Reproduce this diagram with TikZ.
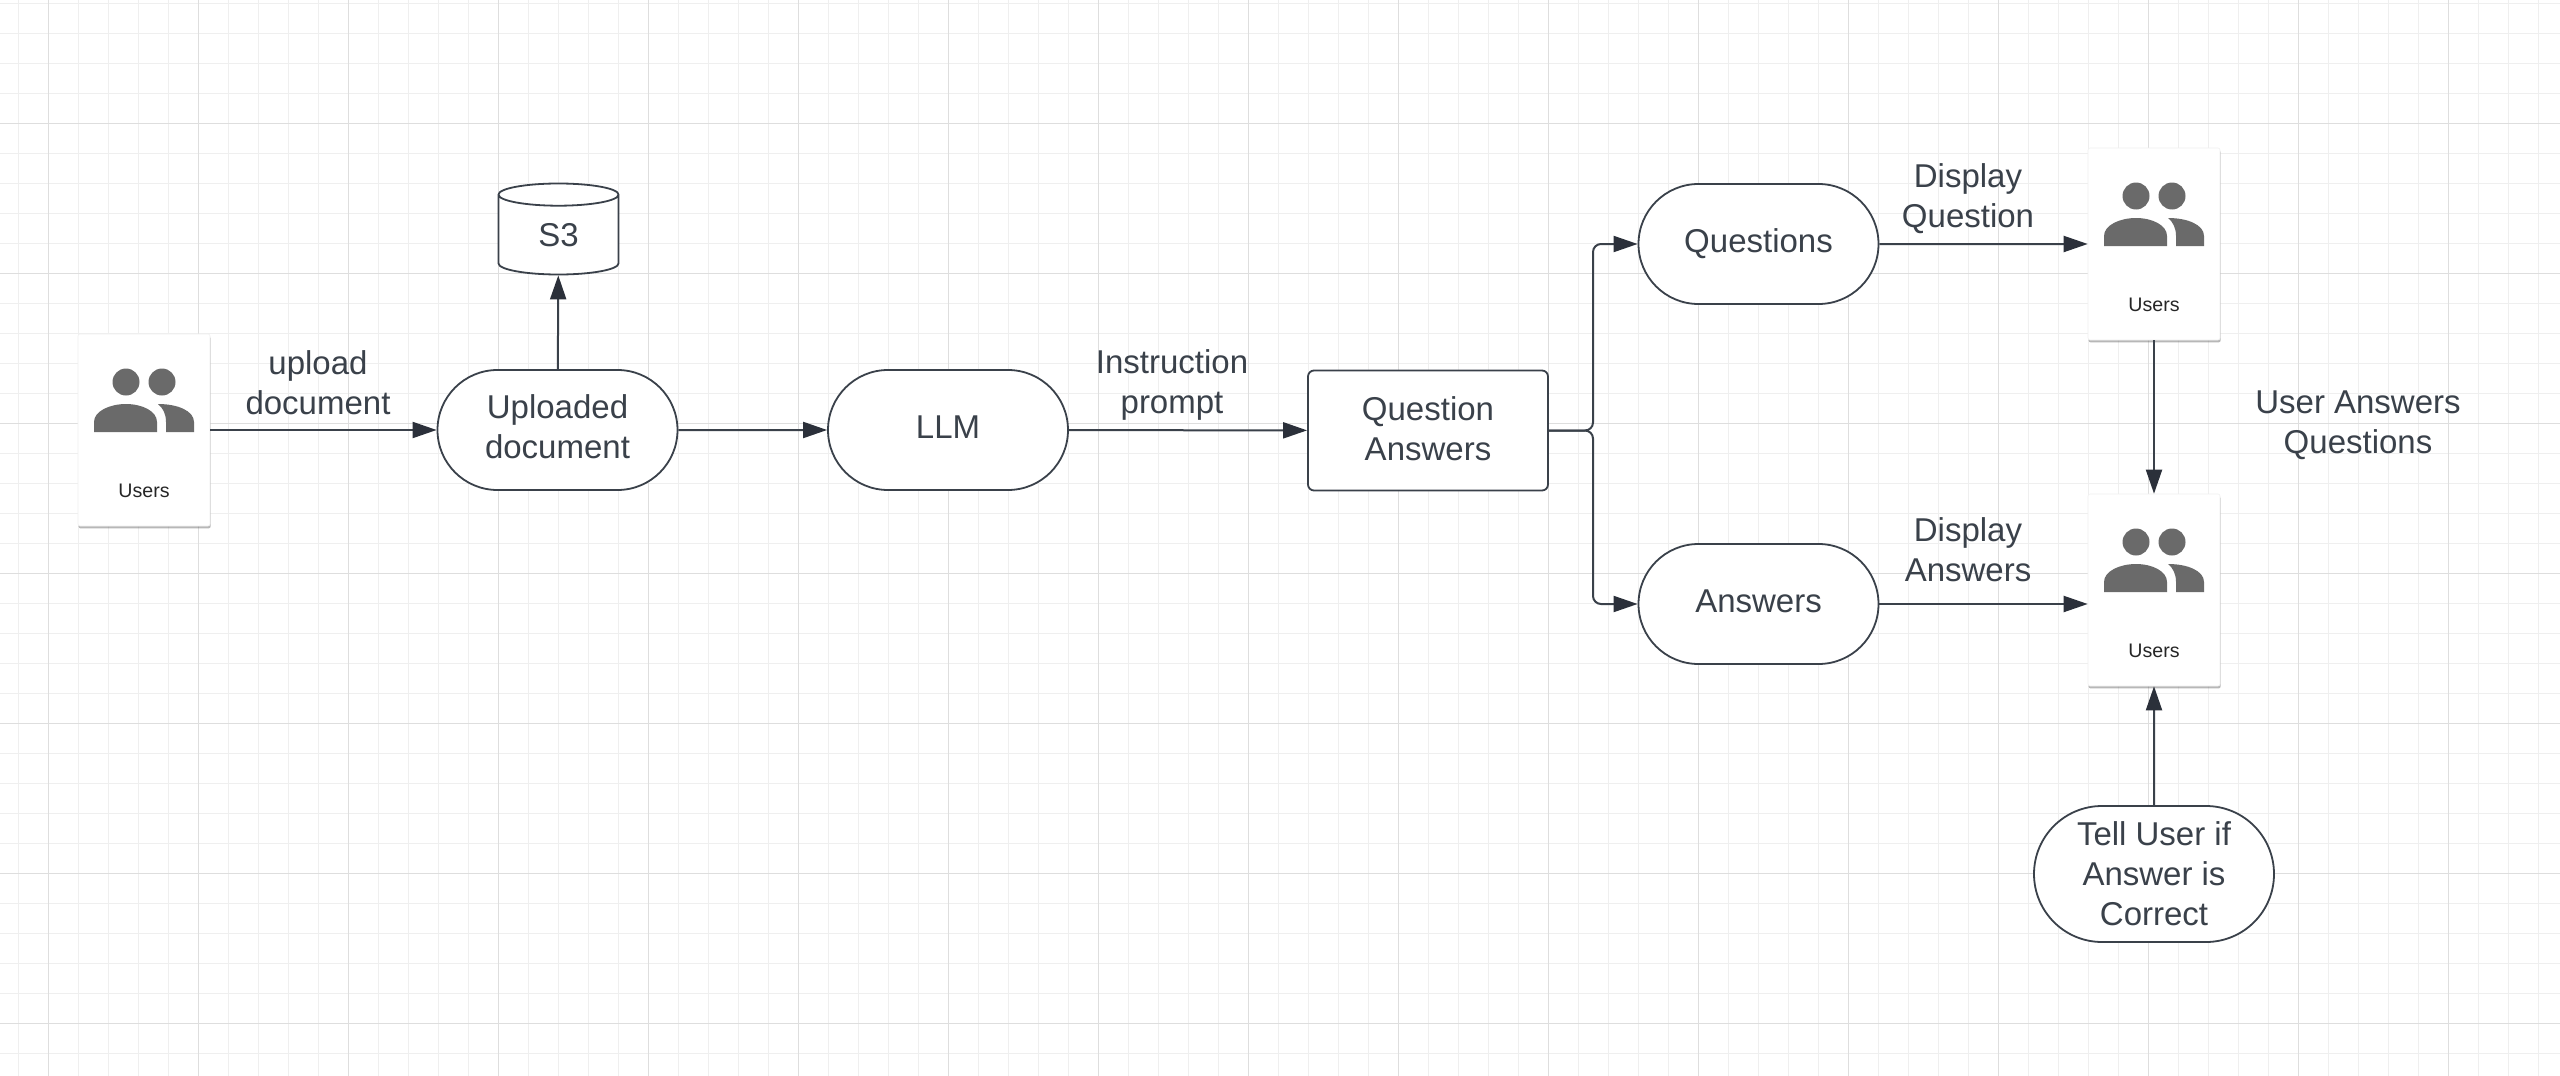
\documentclass[tikz,border=0pt]{standalone}
\usepackage{fontspec}
\setmainfont{Liberation Sans}
\usetikzlibrary{shapes,shapes.geometric,shapes.misc,arrows.meta,shadows,positioning}
\definecolor{inkline}{HTML}{3A414A}
\definecolor{inktip}{HTML}{2B303A}
\definecolor{iconfill}{HTML}{6A6A6A}
\definecolor{gridminor}{HTML}{EFEFEF}
\definecolor{gridmajor}{HTML}{DEDEDE}
\tikzset{
	every node/.style={text=inkline,font=\fontsize{16.5}{20}\selectfont,align=center},
	pill/.style={shape=rounded rectangle,draw=inkline,line width=0.9pt,fill=white,minimum width=120pt,minimum height=60pt,inner sep=0pt,text depth=3pt},
	card/.style={shape=rectangle,rounded corners=1pt,draw=black!6,line width=0.3pt,fill=white,minimum width=66pt,minimum height=96pt,inner sep=0pt,drop shadow={shadow xshift=0.3pt,shadow yshift=-1.2pt,opacity=0.4,fill=black!70}},
	cardtext/.style={text=black!85,font=\fontsize{9.8}{12}\selectfont,inner sep=0pt},
	conn/.style={-{Triangle[length=12pt,width=8pt,color=inktip]},draw=inkline,line width=1pt},
	usericon/.pic={
		\fill[iconfill] (-18,-48) circle [x radius=13.5,y radius=13.5];
		\fill[iconfill] (18,-48) circle [x radius=13.5,y radius=13.5];
		\fill[iconfill] (-50,2) -- (-50,-8) .. controls (-50,-19) and (-34,-26) .. (-18,-26) .. controls (-2,-26) and (13,-19) .. (13,-8) -- (13,2) -- cycle;
		\fill[iconfill] (22,2) -- (22,-8) .. controls (22,-16) and (19,-22) .. (14,-26) .. controls (34,-26) and (50,-19) .. (50,-8) -- (50,2) -- cycle;
	}
}
\begin{document}
\begin{tikzpicture}[x=0.5pt,y=-0.5pt]
	\useasboundingbox (0,0) rectangle (2560,1076);
	\fill[white] (0,0) rectangle (2560,1076);
	% grid
	\foreach \gx in {0,...,85} \draw[gridminor,line width=0.6pt] ({18.5+30*\gx},0) -- ({18.5+30*\gx},1076);
	\foreach \gy in {0,...,35} \draw[gridminor,line width=0.6pt] (0,{3.5+30*\gy}) -- (2560,{3.5+30*\gy});
	\foreach \gx in {0,...,16} \draw[gridmajor,line width=0.6pt] ({48.5+150*\gx},0) -- ({48.5+150*\gx},1076);
	\foreach \gy in {0,...,6} \draw[gridmajor,line width=0.6pt] (0,{123.5+150*\gy}) -- (2560,{123.5+150*\gy});

	% user cards
	\foreach \cardName/\cardX/\cardY in {usersA/144/430,usersB/2154/244,usersC/2154/590}
	{
		\node[card] (\cardName) at (\cardX,\cardY) {};
		\pic at (\cardX,\cardY) {usericon};
		\node[cardtext] (\cardName-label) at (\cardX,\cardY+60.5) {Users};
	}

	\node[pill] (uploaded) at (557.5,430) {Uploaded\\document};
	\node[shape=cylinder,shape border rotate=90,aspect=0.55,draw=inkline,line width=0.9pt,fill=white,minimum width=60pt,minimum height=45.5pt,inner sep=0pt] (s3) at (558.5,235) {S3};
	\node[pill] (llm) at (948,430) {LLM};
	\node[shape=rectangle,rounded corners=3pt,draw=inkline,line width=0.9pt,fill=white,minimum width=120pt,minimum height=60pt,inner sep=0pt,text depth=1.5pt] (qa) at (1428,430.5) {Question\\Answers};
	\node[pill] (questions) at (1758.5,244) {Questions};
	\node[pill] (answers) at (1758.5,604) {Answers};
	\node[pill,minimum height=68pt,text depth=0pt] (tell) at (2154,874) {Tell User if\\Answer is\\Correct};

	\node[inner sep=0pt] (uploadlbl) at (318,383) {upload\\document};
	\node[inner sep=0pt] (promptlbl) at (1172,385) {Instruction\\prompt};
	\node[inner sep=0pt] (showqlbl) at (1968,199) {Display\\Question};
	\node[inner sep=0pt] (showalbl) at (1968,550) {Display\\Answers};
	\node[inner sep=0pt] (replylbl) at (2358,425) {User Answers\\Questions};

	\coordinate (fork) at (1593,430.5);

	\draw[conn] (usersA) -- (uploaded);
	\draw[conn] (uploaded) -- (s3);
	\draw[conn] (uploaded) -- (llm);
	\draw[conn] (llm) -- (qa);
	\draw[conn,rounded corners=4pt] (qa.east) -- (fork) |- (questions.west);
	\draw[conn,rounded corners=4pt] (qa.east) -- (fork) |- (answers.west);
	\draw[conn] (questions) -- (usersB);
	\draw[conn] (answers.east) -- (answers -| usersC.west);
	\draw[conn] (usersB) -- (usersC);
	\draw[conn] (tell) -- (usersC);
\end{tikzpicture}
\end{document}
